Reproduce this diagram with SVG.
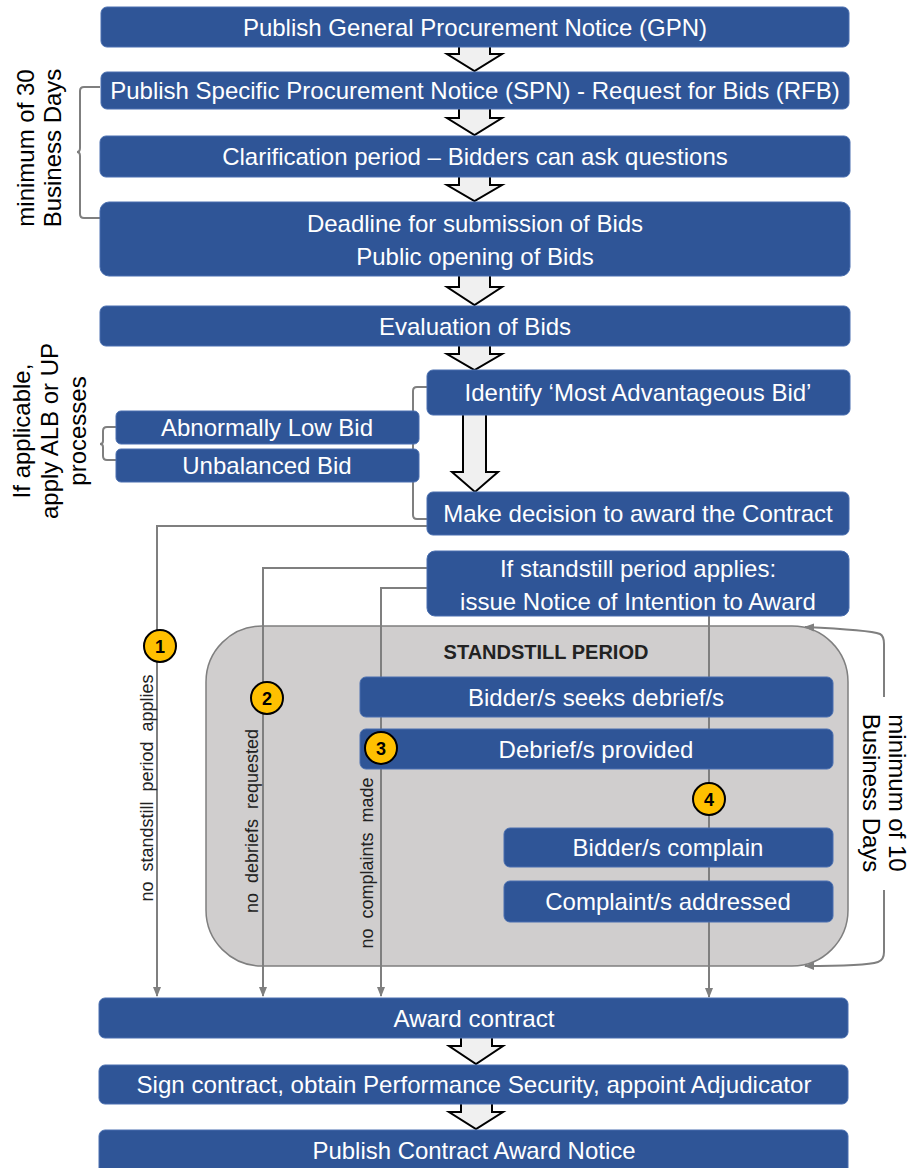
<svg xmlns="http://www.w3.org/2000/svg" width="914" height="1168" viewBox="0 0 914 1168">
<defs>
<style>
.box{fill:#2F5597;stroke:#4a6fb0;stroke-width:1}
.bt{fill:#fff;font-family:"Liberation Sans",Arial,sans-serif;font-size:24px;text-anchor:middle}
.barrow{fill:#f0f0f0;stroke:#000;stroke-width:2;stroke-linejoin:miter}
.conn{fill:none;stroke:#7f7f7f;stroke-width:2}
.brk{fill:none;stroke:#7f7f7f;stroke-width:2}
.side{fill:#000;font-family:"Liberation Sans",Arial,sans-serif;font-size:24px;text-anchor:middle}
.lbl{fill:#222;font-family:"Liberation Sans",Arial,sans-serif;font-size:18px;word-spacing:5px;text-anchor:middle}
.num{fill:#FFC000;stroke:#000;stroke-width:2}
.nt{fill:#000;font-family:"Liberation Sans",Arial,sans-serif;font-size:18px;font-weight:bold;text-anchor:middle}
</style>
<marker id="ah" viewBox="0 0 10 10" refX="9" refY="5" markerWidth="5" markerHeight="5" orient="auto-start-reverse" markerUnits="strokeWidth">
<path d="M0,1 L10,5 L0,9 Z" fill="#7f7f7f"/>
</marker>
</defs>

<g id="standstill-region">
<rect x="206" y="626" width="642" height="340" rx="56" ry="56" fill="#D0CECE" stroke="#7f7f7f" stroke-width="1.5"/>
<text x="546" y="659" font-family="Liberation Sans, Arial, sans-serif" font-size="20" font-weight="bold" fill="#222" text-anchor="middle">STANDSTILL PERIOD</text>
</g>

<g id="block-arrows">
<path class="barrow" d="M459,44 H490 V54 H502 L474.5,71 L447,54 H459 Z"/>
<path class="barrow" d="M459,106 H490 V118 H502 L474.5,135 L447,118 H459 Z"/>
<path class="barrow" d="M459,174 H490 V185 H502 L474.5,201 L447,185 H459 Z"/>
<path class="barrow" d="M459,273 H490 V287 H502 L474.5,305 L447,287 H459 Z"/>
<path class="barrow" d="M459,343 H490 V354 H502 L474.5,370 L447,354 H459 Z"/>
<path class="barrow" d="M463,412 H486 V472 H498 L475,492 L452,472 H463 Z"/>
<path class="barrow" d="M461,1035 H492 V1046 H503 L476,1064 L449,1046 H461 Z"/>
<path class="barrow" d="M461,1101 H492 V1112 H503 L476,1129 L449,1112 H461 Z"/>
</g>

<g id="connectors">
<path class="brk" d="M100,87 H84 Q80,87 80,91 V148 Q80,152 77,152 Q80,152 80,156 V214 Q80,218 84,218 H100"/>
<path class="brk" d="M116,427 H107 Q103,427 103,431 V441 Q103,444 100,444 Q103,444 103,447 V456 Q103,460 107,460 H116"/>
<path class="brk" d="M432,387 H417 Q413,387 413,391 V515 Q413,519 417,519 H428"/>
<path class="conn" d="M427,526 H157 V996" marker-end="url(#ah)"/>
<path class="conn" d="M427,568 H263 V996" marker-end="url(#ah)"/>
<path class="conn" d="M427,588 H381 V996" marker-end="url(#ah)"/>
<path class="conn" d="M709,616 V997" marker-end="url(#ah)"/>
<path class="brk" d="M805,627 Q870,630 880,634 Q884,636 884,644 V697" marker-start="url(#ah)"/>
<path class="brk" d="M884,890 V952 Q884,960 878,962 Q866,966 805,966" marker-end="url(#ah)"/>
</g>

<g id="n-gpn"><rect class="box" x="101" y="7" width="748" height="40" rx="6"/><text class="bt" x="475" y="35.5">Publish General Procurement Notice (GPN)</text></g>
<g id="n-spn"><rect class="box" x="101" y="72" width="748" height="37" rx="6"/><text class="bt" x="475" y="99">Publish Specific Procurement Notice (SPN) - Request for Bids (RFB)</text></g>
<g id="n-clar"><rect class="box" x="100" y="136" width="750" height="41" rx="6"/><text class="bt" x="475" y="165">Clarification period – Bidders can ask questions</text></g>
<g id="n-deadline"><rect class="box" x="100" y="202" width="750" height="74" rx="9"/><text class="bt" x="475" y="231.5">Deadline for submission of Bids</text><text class="bt" x="475" y="264.5">Public opening of Bids</text></g>
<g id="n-eval"><rect class="box" x="100" y="306" width="750" height="40" rx="6"/><text class="bt" x="475" y="334.5">Evaluation of Bids</text></g>
<g id="n-identify"><rect class="box" x="427" y="370" width="423" height="45" rx="6"/><text class="bt" x="638" y="401">Identify ‘Most Advantageous Bid’</text></g>
<g id="n-alb"><rect class="box" x="116" y="411" width="303" height="33" rx="5"/><text class="bt" x="267" y="436">Abnormally Low Bid</text></g>
<g id="n-ub"><rect class="box" x="116" y="449" width="303" height="33" rx="5"/><text class="bt" x="267" y="474">Unbalanced Bid</text></g>
<g id="n-decision"><rect class="box" x="427" y="492" width="422" height="43" rx="6"/><text class="bt" x="638" y="522">Make decision to award the Contract</text></g>
<g id="n-noia"><rect class="box" x="427" y="551" width="422" height="65" rx="8"/><text class="bt" x="638" y="576.5">If standstill period applies:</text><text class="bt" x="638" y="609.5">issue Notice of Intention to Award</text></g>
<g id="n-seeks"><rect class="box" x="360" y="677" width="473" height="40" rx="6"/><text class="bt" x="596" y="705.5">Bidder/s seeks debrief/s</text></g>
<g id="n-provided"><rect class="box" x="360" y="729" width="473" height="40" rx="6"/><text class="bt" x="596" y="757.5">Debrief/s provided</text></g>
<g id="n-complain"><rect class="box" x="504" y="828" width="329" height="39" rx="6"/><text class="bt" x="668" y="856">Bidder/s complain</text></g>
<g id="n-addressed"><rect class="box" x="504" y="881" width="329" height="41" rx="6"/><text class="bt" x="668" y="910">Complaint/s addressed</text></g>
<g id="n-award"><rect class="box" x="99" y="998" width="749" height="40" rx="6"/><text class="bt" x="474" y="1026.5" textLength="161" lengthAdjust="spacingAndGlyphs">Award contract</text></g>
<g id="n-sign"><rect class="box" x="99" y="1065" width="749" height="39" rx="6"/><text class="bt" x="474" y="1093" textLength="675" lengthAdjust="spacingAndGlyphs">Sign contract, obtain Performance Security, appoint Adjudicator</text></g>
<g id="n-can"><rect class="box" x="99" y="1130" width="749" height="44" rx="6"/><text class="bt" x="474" y="1159" textLength="323" lengthAdjust="spacingAndGlyphs">Publish Contract Award Notice</text></g>

<g id="side-labels">
<g transform="translate(34,148) rotate(-90)"><text class="side" x="0" y="0">minimum of 30</text><text class="side" x="0" y="27">Business Days</text></g>
<g transform="translate(30,431) rotate(-90)"><text class="side" x="0" y="0">If applicable,</text><text class="side" x="0" y="28">apply ALB or UP</text><text class="side" x="0" y="56">processes</text></g>
<g transform="translate(889,793) rotate(90)"><text class="side" x="0" y="0">minimum of 10</text><text class="side" x="0" y="26">Business Days</text></g>
<text class="lbl" transform="translate(153,788) rotate(-90)">no standstill period applies</text>
<text class="lbl" transform="translate(258,821) rotate(-90)">no debriefs requested</text>
<text class="lbl" transform="translate(373,863) rotate(-90)">no complaints made</text>
</g>

<g id="markers-numbered">
<g id="num1"><circle class="num" cx="160" cy="646" r="16"/><text class="nt" x="160" y="652.5">1</text></g>
<g id="num2"><circle class="num" cx="267" cy="698" r="16"/><text class="nt" x="267" y="704.5">2</text></g>
<g id="num3"><circle class="num" cx="381" cy="748" r="16"/><text class="nt" x="381" y="754.5">3</text></g>
<g id="num4"><circle class="num" cx="709" cy="799" r="16"/><text class="nt" x="709" y="805.5">4</text></g>
</g>
</svg>
